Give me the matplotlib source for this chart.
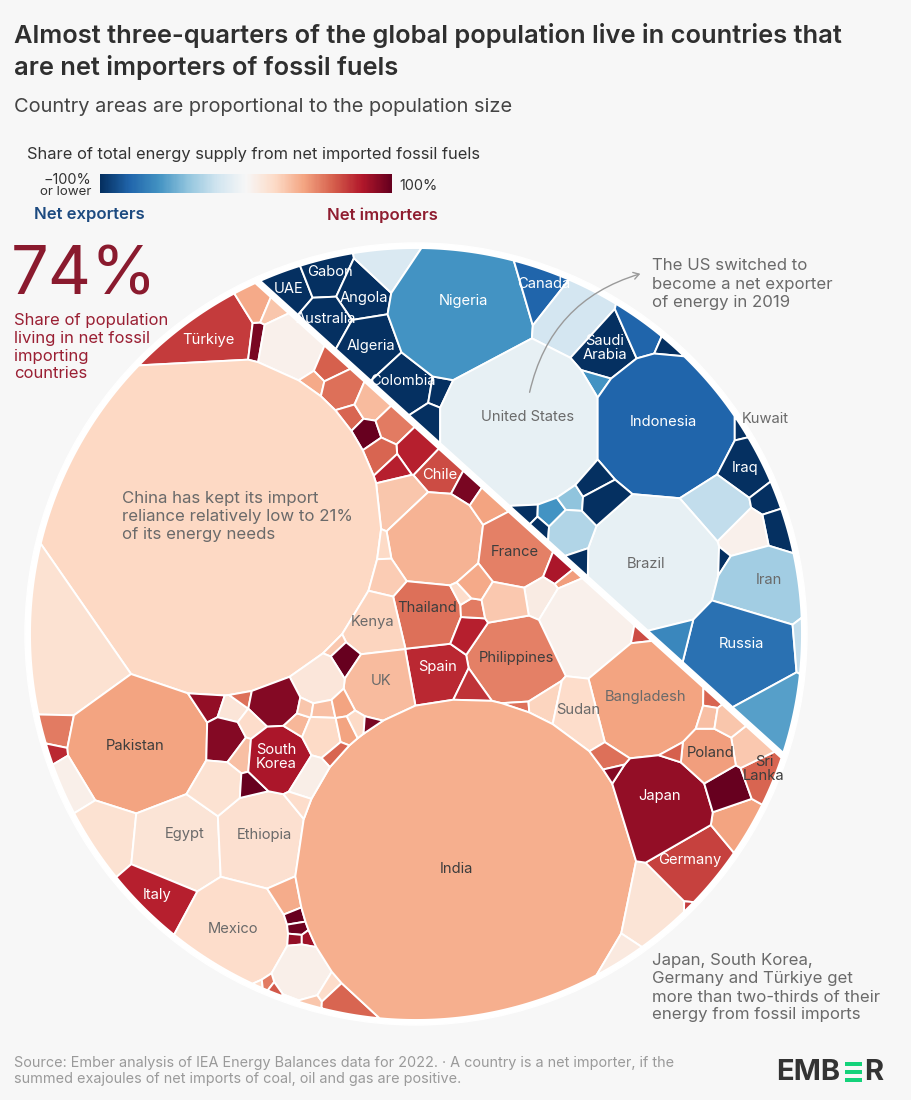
import numpy as np
import matplotlib
matplotlib.use('Agg')
import matplotlib.pyplot as plt
from matplotlib.patches import FancyArrowPatch, Rectangle

FONT = 'Inter'
plt.rcParams['font.family'] = [FONT, 'DejaVu Sans']

# share of energy supply from net imported fossil fuels, one value per cell
exp_share = [-100, -100, -100, -100, -100, -100, -100, -100, -15, -60,
             -80, -18, -100, -60, -80, -100, -8, -80, -100, -100,
             -25, -100, -100, -100, 5, -8, -100, -35, -75, -65,
             -25, -55, -100, -60, -40, -100, -30, -100, -100, -100]
# seed of each cell (pixels), and its weight radius
# (negative radius = negative weight, for slivers squeezed between big cells)
exp_x = [290, 323, 362, 325, 370, 405, 446, 432, 390, 460,
         535, 573, 606, 598, 640, 672, 520, 665, 736, 746,
         717, 757, 769, 779, 745, 653, 721, 760, 742, 670,
         802, 772, 524, 553, 572, 540, 570, 580, 592, 600]
exp_y = [290, 277, 295, 320, 345, 383, 390, 425, 265, 312,
         290, 320, 350, 378, 335, 349, 425, 425, 425, 467,
         507, 505, 497, 528, 535, 563, 565, 590, 650, 632,
         645, 705, 514, 515, 501, 530, 532, 562, 488, 503]
exp_r = [18, 17, 20, 20, 25, 23, 9, 10, 18, 68,
         20, 28, 26, 2, 15, 4, 80, 70, 6, 25,
         28, -22, 7, 12, 20, 65, -8, 42, 52, 10,
         2, 30, 5, 9, 3, 5, 20, 8, 5, 14]

imp_share = [70, 95, 38, 28, 5, 60, 38, 55, 58, 32,
             100, 52, 78, 58, 78, 65, 95, 28, 21, 35,
             40, 50, 82, 42, 8, 5, 65, 40, 50, 55,
             22, 18, 75, 72, 55, 78, 52, 18, 38, 27,
             20, 25, 22, 27, 100, 32, 12, 15, 52, 75,
             40, 6, 15, 14, 16, 78, 18, 37, 100, 98,
             88, 85, 6, 20, 52, 62, 55, 28, 18, 58,
             36, 14, 10, 68, 70, 40, 88, 100, 58, 27,
             42, 60, 55, 90, 92, 58, 30, 28, 88, 13,
             55, 92, 92, 18, 30, 15, 100, 82, 33, 28,
             30, 40, 20, 40, 20, 95, 58, 7, 18]
imp_x = [200, 256, 253, 272, 290, 330, 312, 342, 350, 372,
         367, 393, 417, 380, 393, 440, 468, 402, 210, 435,
         490, 515, 560, 568, 542, 588, 641, 648, 515, 518,
         545, 578, 435, 470, 428, 468, 469, 460, 473, 505,
         384, 385, 373, 330, 344, 380, 317, 60, 58, 53,
         138, 72, 107, 178, 262, 157, 237, 290, 296, 298,
         297, 306, 300, 258, 267, 276, 290, 308, 326, 340,
         465, 645, 612, 690, 686, 738, 660, 727, 763, 750,
         708, 678, 606, 620, 609, 711, 708, 727, 200, 230,
         240, 275, 222, 252, 242, 218, 250, 278, 298, 304,
         323, 342, 322, 346, 356, 370, 337, 310, 301]
imp_y = [335, 342, 302, 310, 348, 365, 383, 390, 417, 403,
         434, 425, 450, 453, 467, 472, 487, 505, 526, 540,
         502, 550, 568, 578, 597, 625, 635, 697, 660, 710,
         708, 715, 675, 692, 612, 628, 610, 595, 583, 603,
         549, 574, 625, 646, 661, 685, 678, 630, 722, 746,
         738, 778, 835, 842, 838, 893, 936, 902, 917, 929,
         940, 940, 972, 983, 982, 989, 998, 1001, 988, 1003,
         868, 905, 955, 860, 906, 820, 808, 788, 775, 748,
         755, 752, 762, 761, 775, 698, 716, 719, 697, 707,
         693, 700, 740, 724, 755, 785, 787, 758, 725, 706,
         709, 705, 735, 730, 725, 726, 753, 778, 806]
imp_r = [52, 12.5, 15, 7, 31, 13, 5, 16, 8, 14,
         11, 14, 16, 12, 6, 18, 8, 25, 170, 46,
         12, 35, 9, 3, 11, 45, 4, 55, 42, 6,
         13, 24, 27, 11, 32, 9, 5, 5, 11, 18,
         4, 12, 28, 6, 11, 33, 24, 88, 24, 5,
         70, 15, 23, 42, 44, 24, 50, 7, 3, 3,
         3, 2, 27, 3, 4, 4, 2, 3, 4, 12,
         168, 30, 9, 33, -25, 14, 48, 17, 16, 14,
         24, -10, -22, -36, -22, 6, 7, 10, 24, 11,
         10, 24, 20, 6, 12, 22, 8, 30, 7, 4,
         7, 5, 17, 8, 6, 2, 5, 17, 3]

# country labels
label_names = ['UAE', 'Gabon', 'Angola', 'Australia', 'Algeria', 'Colombia', 'Nigeria', 'Canada',
               'Saudi\nArabia', 'Indonesia', 'Iraq', 'Russia', 'Türkiye', 'Chile', 'Spain', 'Italy',
               'South\nKorea', 'Japan', 'Germany',
               'United States', 'Brazil', 'Iran', 'Kuwait', 'Kenya', 'UK', 'Sudan', 'Bangladesh',
               'Egypt', 'Ethiopia', 'Mexico',
               'France', 'Thailand', 'Philippines', 'Pakistan', 'India', 'Poland', 'Sri\nLanka']
label_x = [289, 330, 364, 326, 371, 403, 463, 544, 605, 663, 745, 741, 208, 440, 438, 157, 276,
           660, 690, 528, 646, 769, 765, 373, 381, 578, 646, 185, 264, 233, 515, 427, 516, 135,
           456, 711, 764]
label_y = [289, 272, 298, 319, 346, 381, 301, 284, 348, 422, 468, 644, 340, 475, 667, 895, 757,
           796, 860, 417, 564, 580, 419, 622, 681, 710, 697, 834, 835, 929, 552, 608, 658, 746,
           869, 753, 769]
label_colors = ['white'] * 19 + ['#6a6a6a'] * 11 + ['#3d3d3d'] * 7

CX, CY, R = 416, 634, 386
# the diagonal that splits exporters from importers
P0 = np.array([260.0, 284.0])
P1 = np.array([783.0, 756.0])


def clip(poly, a, b):
    # keep the part of poly where a . p <= b
    out = []
    n = len(poly)
    for i in range(n):
        p, q = poly[i], poly[(i + 1) % n]
        dp, dq = a @ p - b, a @ q - b
        if dp <= 0:
            out.append(p)
        if dp * dq < 0:
            out.append(p + (q - p) * dp / (dp - dq))
    return out


def power_cells(xs, ys, rs, start):
    sites = np.column_stack([xs, ys]).astype(float)
    rs = np.array(rs, dtype=float)
    w = np.sign(rs) * rs ** 2
    cells = []
    for i in range(len(sites)):
        poly = list(start)
        for j in range(len(sites)):
            if i == j or not poly:
                continue
            a = 2 * (sites[j] - sites[i])
            b = sites[j] @ sites[j] - sites[i] @ sites[i] - w[j] + w[i]
            poly = clip(poly, a, b)
        cells.append(np.array(poly))
    return cells


t = np.linspace(0, 2 * np.pi, 720, endpoint=False)
disc = [np.array([CX + R * np.cos(a), CY + R * np.sin(a)]) for a in t]

d = P1 - P0
normal = np.array([d[1], -d[0]]) / np.hypot(*d)   # points to the exporter side
gap = 2.5
exp_start = clip(disc, -normal, -(normal @ P0) - gap)
imp_start = clip(disc, normal, normal @ P0 - gap)

fig = plt.figure(figsize=(9.11, 11), dpi=100, facecolor='#f7f7f7')
ax = fig.add_axes([0, 0, 1, 1])
ax.set_axis_off()

cmap = plt.get_cmap('RdBu_r')
norm = plt.Normalize(-100, 100)

ax.add_patch(plt.Circle((CX, CY), R + 5, color='white', zorder=1))
for xs, ys, rs, vals, start in [(exp_x, exp_y, exp_r, exp_share, exp_start),
                                (imp_x, imp_y, imp_r, imp_share, imp_start)]:
    for cell, v in zip(power_cells(xs, ys, rs, start), vals):
        if len(cell) > 2:
            ax.fill(cell[:, 0], cell[:, 1], facecolor=cmap(norm(v)), edgecolor='white',
                    lw=1.4, joinstyle='round', zorder=2)

for name, x, y, c in zip(label_names, label_x, label_y, label_colors):
    ax.text(x, y, name, color=c, fontsize=10.6, ha='center', va='center', zorder=4,
            linespacing=1.0)

# legend bar
grad = np.linspace(-100, 100, 300).reshape(1, -1)
ax.imshow(grad, cmap=cmap, norm=norm, extent=[100, 392, 193, 174], aspect='auto', zorder=2)

ax.set_xlim(0, 911)
ax.set_ylim(1100, 0)

ax.text(14, 36, 'Almost three-quarters of the global population live in countries that',
        fontsize=18.35, fontweight='semibold', color='#2f2f2f', va='center')
ax.text(14, 68, 'are net importers of fossil fuels',
        fontsize=18.35, fontweight='semibold', color='#2f2f2f', va='center')
ax.text(14, 107, 'Country areas are proportional to the population size',
        fontsize=14.4, color='#444444', va='center')
ax.text(27, 155, 'Share of total energy supply from net imported fossil fuels',
        fontsize=11.85, color='#333333', va='center')
ax.text(91, 180, '\u2212100%', fontsize=10.4, color='#333333', ha='right', va='center')
ax.text(91, 192, 'or lower', fontsize=9.6, color='#333333', ha='right', va='center')
ax.text(399, 186, '100%', fontsize=10.4, color='#333333', va='center')
ax.text(34, 215, 'Net exporters', fontsize=12, fontweight='semibold', color='#1c4a80', va='center')
ax.text(327, 215, 'Net importers', fontsize=12, fontweight='semibold', color='#8f1d30', va='center')

ax.text(11, 277, '74%', fontsize=48, color='#8a1a2e', va='center')
for y, line in zip([320, 339, 357, 374], ['Share of population', 'living in net fossil',
                                          'importing', 'countries']):
    ax.text(14, y, line, fontsize=12, color='#9a1f33', va='center')

for y, line in zip([266, 284, 302], ['The US switched to', 'become a net exporter',
                                     'of energy in 2019']):
    ax.text(652, y, line, fontsize=12.1, color='#6a6a6a', va='center')
for y, line in zip([498, 516, 534], ['China has kept its import', 'reliance relatively low to 21%',
                                     'of its energy needs']):
    ax.text(122, y, line, fontsize=12.1, color='#6a6a6a', va='center', zorder=4)
for y, line in zip([961, 979, 997, 1014], ['Japan, South Korea,', 'Germany and Türkiye get',
                                           'more than two-thirds of their',
                                           'energy from fossil imports']):
    ax.text(652, y, line, fontsize=12.1, color='#6a6a6a', va='center')

arrow = FancyArrowPatch((529, 395), (643, 273), connectionstyle='arc3,rad=-0.3',
                        arrowstyle='->,head_length=4,head_width=2.5', color='#9a9a9a', lw=1, zorder=5)
ax.add_patch(arrow)

ax.text(14, 1063, 'Source: Ember analysis of IEA Energy Balances data for 2022. · A country is a net importer, if the',
        fontsize=10.4, color='#9a9a9a', va='center')
ax.text(14, 1079, 'summed exajoules of net imports of coal, oil and gas are positive.',
        fontsize=10.4, color='#9a9a9a', va='center')

# logo
ax.text(776, 1072, 'EMB', fontsize=21, fontweight='bold', color='#333333', va='center')
ax.text(864, 1072, 'R', fontsize=21, fontweight='bold', color='#333333', va='center')
for y in [1062, 1070, 1078]:
    ax.add_patch(Rectangle((845, y), 17, 4, color='#14d27a', lw=0))

fig.savefig('out.png', dpi=100, facecolor=fig.get_facecolor())
plt.close('all')
